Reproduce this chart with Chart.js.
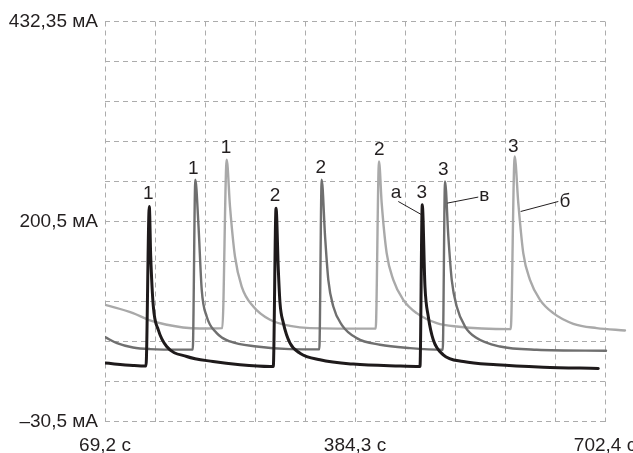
<!DOCTYPE html>
<html lang="ru">
<head>
  <meta charset="UTF-8">
  <title>Ток, мА</title>
  <style>
    body {
      margin: 0;
      background: #fff;
    }
    .chart-box {
      width: 633px;
      height: 453px;
      position: relative;
    }
  </style>
</head>
<body>
  <div class="chart-box">
    <canvas id="currentChart"></canvas>
  </div>

  <script src="https://cdn.jsdelivr.net/npm/chart.js@4.4.1/dist/chart.umd.min.js"></script>
  <script>
    // axis ranges and tick labels
    const xMin = 69.2, xMax = 702.4;
    const yMin = -30.5, yMax = 432.35;
    const xTickLabels = ['69,2 с', '', '', '', '', '384,3 с', '', '', '', '', '702,4 с'];
    const yTickLabels = ['–30,5 мА', '', '', '', '', '200,5 мА', '', '', '', '', '432,35 мА'];

    // curve "а" (black)
    const aX = [69.2, 104.7, 121.1, 125.3, 127.1, 130.4, 136.7, 147.3, 172.7, 206.0, 240.2, 278.2,
                282.3, 285.8, 288.7, 290.8, 295.0, 303.5, 316.1, 341.5, 383.6, 442.8,
                468.1, 471.0, 474.4, 478.6, 484.9, 497.6, 523.0, 565.2, 624.3, 693.9];
    const aY = [37.1, 34.3, 33.6, 218.3, 160.4, 102.6, 75.6, 56.3, 44.7, 38.9, 35.1, 33.1,
                33.1, 216.4, 145.0, 106.9, 83.7, 60.2, 48.6, 40.9, 35.9, 33.6,
                33.1, 220.3, 125.7, 91.0, 64.0, 46.7, 38.9, 35.1, 32.4, 30.8];

    // curve "в" (dark grey)
    const vX = [69.2, 84.4, 104.7, 126.2, 168.0, 180.3, 183.6, 187.4, 191.7, 198.0, 210.7, 227.5, 261.3, 303.5,
                340.6, 343.6, 347.9, 352.0, 358.3, 369.0, 387.9, 417.5, 455.5,
                496.9, 499.8, 504.0, 508.3, 514.6, 525.1, 539.9, 569.4, 615.9, 703.7];
    const vY = [67.2, 60.2, 55.1, 53.3, 52.7, 52.8, 249.2, 199.4, 121.9, 91.0, 71.8, 62.1, 56.3, 53.3,
                53.0, 249.2, 183.6, 133.5, 102.6, 81.4, 66.0, 58.3, 54.4,
                52.5, 247.2, 183.6, 133.5, 102.6, 79.4, 66.0, 56.3, 52.5, 51.3];

    // curve "б" (light grey)
    const bX = [69.2, 104.7, 126.2, 147.7, 168.0, 189.5, 217.8, 223.3, 227.5, 233.8, 242.3, 257.0, 278.2, 303.5, 328.8,
                412.0, 416.2, 419.6, 425.9, 434.3, 446.9, 463.9, 489.3, 514.6,
                583.0, 588.0, 592.6, 598.9, 607.4, 620.1, 636.9, 662.3, 691.9, 727.7];
    const bY = [104.5, 94.9, 86.4, 81.4, 78.3, 77.1, 77.6, 272.3, 218.3, 160.4, 125.7, 102.6, 87.2, 80.2, 77.6,
                77.0, 270.4, 222.2, 164.4, 133.5, 110.3, 94.9, 83.4, 79.4,
                76.4, 276.1, 222.2, 164.4, 133.5, 110.3, 94.9, 82.6, 77.6, 74.8];

    // marks over the peaks and curve names
    const noteText = ['1', '1', '1', '2', '2', '2', '3', '3', '3', 'а', 'в', 'б'];
    const noteX = [124.0, 181.0, 222.4, 284.5, 342.4, 416.6, 470.3, 497.6, 586.3, 437.7, 549.5, 651.7];
    const noteY = [227.2, 256.1, 280.1, 224.1, 256.9, 278.1, 228.0, 254.2, 281.9, 228.0, 224.1, 217.6];

    // leader lines: x1, y1, x2, y2
    const leaderX1 = [440.6, 502.7, 595.6];
    const leaderY1 = [224.1, 222.2, 212.5];
    const leaderX2 = [470.3, 541.9, 643.3];
    const leaderY2 = [208.7, 229.2, 224.1];

    const FONT = "'Liberation Sans', Arial, sans-serif";
    const FONT_SIZE = 19;
    const TEXT_COLOR = '#231f20';

    function toPoints(xs, ys) {
      return xs.map((x, i) => ({ x: x, y: ys[i] }));
    }

    function evenTicks(min, max, n) {
      const out = [];
      for (let i = 0; i <= n; i++) out.push({ value: min + (max - min) * i / n });
      return out;
    }

    const notesPlugin = {
      id: 'notes',
      afterDatasetsDraw(chart) {
        const ctx = chart.ctx;
        const sx = chart.scales.x, sy = chart.scales.y;
        ctx.save();
        ctx.strokeStyle = TEXT_COLOR;
        ctx.lineWidth = 1;
        for (let i = 0; i < leaderX1.length; i++) {
          ctx.beginPath();
          ctx.moveTo(sx.getPixelForValue(leaderX1[i]), sy.getPixelForValue(leaderY1[i]));
          ctx.lineTo(sx.getPixelForValue(leaderX2[i]), sy.getPixelForValue(leaderY2[i]));
          ctx.stroke();
        }
        ctx.fillStyle = TEXT_COLOR;
        ctx.font = FONT_SIZE + 'px ' + FONT;
        ctx.textAlign = 'center';
        ctx.textBaseline = 'alphabetic';
        noteText.forEach((t, i) => {
          ctx.fillText(t, sx.getPixelForValue(noteX[i]), sy.getPixelForValue(noteY[i]));
        });
        ctx.restore();
      }
    };

    new Chart(document.getElementById('currentChart'), {
      type: 'line',
      data: {
        datasets: [
          { label: 'а', data: toPoints(aX, aY), borderColor: '#1e1a1b', borderWidth: 3 },
          { label: 'в', data: toPoints(vX, vY), borderColor: '#6f6f6f', borderWidth: 2.4,
            clip: { left: 0, top: 0, right: 5, bottom: 0 } },
          { label: 'б', data: toPoints(bX, bY), borderColor: '#a9a9a9', borderWidth: 2.4,
            clip: { left: 0, top: 0, right: 25, bottom: 0 } }
        ]
      },
      options: {
        responsive: true,
        maintainAspectRatio: false,
        animation: false,
        layout: { padding: { left: 0, top: 21.5, right: 28, bottom: 0 } },
        elements: {
          point: { radius: 0 },
          line: { cubicInterpolationMode: 'monotone', borderJoinStyle: 'round', borderCapStyle: 'round' }
        },
        plugins: {
          legend: { display: false },
          tooltip: { enabled: false }
        },
        scales: {
          x: {
            type: 'linear',
            min: xMin,
            max: xMax,
            grid: { color: '#acacac', lineWidth: 1, drawTicks: false },
            border: { display: false, dash: [5, 4] },
            afterBuildTicks: scale => { scale.ticks = evenTicks(xMin, xMax, 10); },
            afterFit: scale => { scale.height = 31.5; scale.paddingLeft = 0; scale.paddingRight = 0; },
            ticks: {
              autoSkip: false,
              maxRotation: 0,
              padding: 13,
              color: TEXT_COLOR,
              font: { family: FONT, size: FONT_SIZE },
              callback: (value, index) => xTickLabels[index]
            }
          },
          y: {
            min: yMin,
            max: yMax,
            grid: { color: '#acacac', lineWidth: 1, drawTicks: false },
            border: { display: false, dash: [5, 4] },
            afterBuildTicks: scale => { scale.ticks = evenTicks(yMin, yMax, 10); },
            afterFit: scale => { scale.width = 105; scale.paddingTop = 0; scale.paddingBottom = 0; },
            ticks: {
              autoSkip: false,
              padding: 7,
              color: TEXT_COLOR,
              font: { family: FONT, size: FONT_SIZE },
              callback: (value, index) => yTickLabels[index]
            }
          }
        }
      },
      plugins: [notesPlugin]
    });
  </script>
</body>
</html>
